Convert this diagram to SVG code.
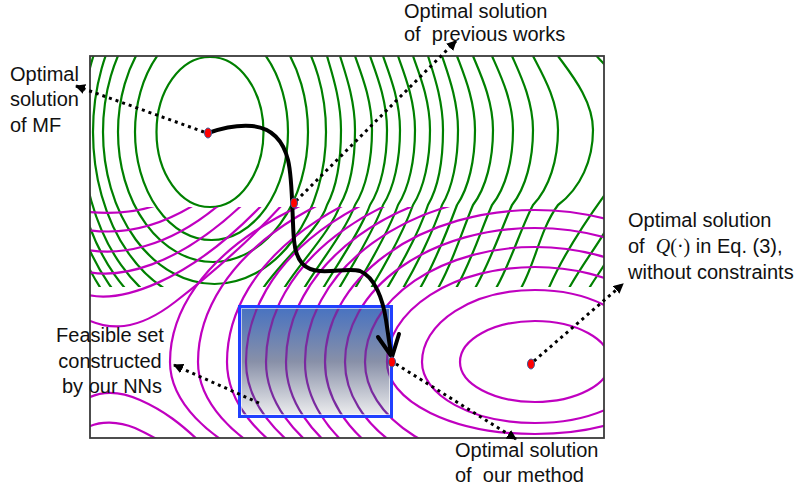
<svg xmlns="http://www.w3.org/2000/svg" xmlns:xlink="http://www.w3.org/1999/xlink" width="801" height="489" viewBox="0 0 801 489">
<style>
.g{fill:none;stroke:#008000;stroke-width:2.2}
.lbl{font-family:"Liberation Sans",Arial,sans-serif;font-size:20px;fill:#111}
.dot{fill:none;stroke:#000;stroke-width:3;stroke-dasharray:3 4;marker-end:url(#ah)}
.pt{fill:#ff0000;stroke:#3d5a9a;stroke-width:1}
</style>
<defs>
<clipPath id="cg"><rect x="90" y="56" width="514" height="231"/></clipPath>
<clipPath id="cm"><rect x="90" y="207" width="514" height="231"/></clipPath>
<clipPath id="cb"><rect x="238" y="305" width="155" height="113"/></clipPath>
<linearGradient id="bg" x1="0" y1="0" x2="0" y2="1">
<stop offset="0" stop-color="#4571c2"/>
<stop offset="0.5" stop-color="#8890a8"/>
<stop offset="1" stop-color="#f2f2f2"/>
</linearGradient>
<marker id="ah" viewBox="0 0 10 10" refX="9" refY="5" markerWidth="10" markerHeight="10" markerUnits="userSpaceOnUse" orient="auto"><path d="M0,0 L10,5 L0,10 z" fill="#000"/></marker>
<g id="mag" fill="none" stroke-width="2.2">
<path d="M460,362 A75,41 0 0 1 535,321 A75,41 0 0 1 610,362 A75,40 0 0 1 535,402 A75,40 0 0 1 460,362Z"/>
<path d="M422,362 A113,72 0 0 1 535,290 A113,72 0 0 1 648,362 A113,61 0 0 1 535,423 A113,61 0 0 1 422,362Z"/>
<path d="M387,362 A148,95 0 0 1 535,267 A148,95 0 0 1 683,362 A148,72 0 0 1 535,434 A148,72 0 0 1 387,362Z"/>
<path d="M365,362 A170,115 0 0 1 535,247 A170,115 0 0 1 705,362 A170,105 0 0 1 535,467 A170,105 0 0 1 365,362Z"/>
<path d="M345,362 A190,134 0 0 1 535,228 A190,134 0 0 1 725,362 A190,122 0 0 1 535,484 A190,122 0 0 1 345,362Z"/>
<path d="M325,362 A210,152 0 0 1 535,210 A210,152 0 0 1 745,362 A210,135 0 0 1 535,497 A210,135 0 0 1 325,362Z"/>
<path d="M305,362 A230,168 0 0 1 535,194 A230,168 0 0 1 765,362 A230,145 0 0 1 535,507 A230,145 0 0 1 305,362Z"/>
<path d="M286,362 A249,179 0 0 1 535,183 A249,179 0 0 1 784,362 A249,148 0 0 1 535,510 A249,148 0 0 1 286,362Z"/>
<path d="M266,362 A269,188 0 0 1 535,174 A269,188 0 0 1 804,362 A269,150 0 0 1 535,512 A269,150 0 0 1 266,362Z"/>
<path d="M246,362 A289,196 0 0 1 535,166 A289,196 0 0 1 824,362 A289,152 0 0 1 535,514 A289,152 0 0 1 246,362Z"/>
<path d="M227,362 A308,200 0 0 1 535,162 A308,200 0 0 1 843,362 A308,155 0 0 1 535,517 A308,155 0 0 1 227,362Z"/>
<path d="M198,362 A337,205 0 0 1 535,157 A337,205 0 0 1 872,362 A337,152 0 0 1 535,514 A337,152 0 0 1 198,362Z"/>
<path d="M170,362 A365,204 0 0 1 535,158 A365,204 0 0 1 900,362 A365,152 0 0 1 535,514 A365,152 0 0 1 170,362Z"/>
<path d="M88,212 C110,214 135,213 157,205"/>
<path d="M88,230 C115,234 150,232 194,205"/>
<path d="M88,250 C118,255 165,250 219,205"/>
<path d="M88,272 C120,278 175,268 242,205"/>
<path d="M88,295 C120,302 185,285 262,205"/>
<path d="M88,320 C108,329 135,333 175,302 C210,275 250,240 282,205"/>
<path d="M88,398 C102,391 118,390 140,400 C165,411 182,425 200,442"/>
<path d="M88,427 C100,421 118,421 135,428 C146,433 155,438 162,442"/>
</g>
</defs>
<rect width="801" height="489" fill="#fff"/>
<g id="contours-green" clip-path="url(#cg)">
<ellipse class="g" cx="210" cy="132" rx="53.5" ry="75"/>
<ellipse class="g" cx="211.5" cy="132" rx="76.5" ry="108"/>
<ellipse class="g" cx="213" cy="132" rx="95" ry="130"/>
<ellipse class="g" cx="214.5" cy="132" rx="111.5" ry="152"/>
<path class="g" d="M215,-40 A122,172 0 0 0 215,304"/>
<path class="g" d="M215,-56 A133,188 0 0 0 215,320"/>
<path class="g" d="M215,-70 A142,202 0 0 0 215,334"/>
<path class="g" d="M215,-83 A150,215 0 0 0 215,347"/>
<path class="g" d="M215,-96 A157,228 0 0 0 215,360"/>
<path class="g" d="M327,56 C331.9,73 341,100 341,130 C341,160 336.1,188 327,205 C319.7,230 277,265 262,290"/>
<path class="g" d="M340,56 C345.3,73 355,100 355,130 C355,160 349.8,188 340,205 C332.1,230 298,265 283,290"/>
<path class="g" d="M355,56 C361,73 372,100 372,130 C372,160 366,188 355,205 C346.1,230 318,265 303,290"/>
<path class="g" d="M370,56 C376,73 387,100 387,130 C387,160 381,188 370,205 C361.1,230 337,265 322,290"/>
<path class="g" d="M383,56 C389,73 400,100 400,130 C400,160 394,188 383,205 C374.1,230 353,265 338,290"/>
<path class="g" d="M398,56 C404,73 415,100 415,130 C415,160 409,188 398,205 C389.1,230 369,265 354,290"/>
<path class="g" d="M413,56 C419,73 430,100 430,130 C430,160 424,188 413,205 C404.1,230 385,265 370,290"/>
<path class="g" d="M428,56 C433.3,73 443,100 443,130 C443,160 437.8,188 428,205 C420.1,230 401,265 386,290"/>
<path class="g" d="M442,56 C447.6,73 458,100 458,130 C458,160 452.4,188 442,205 C433.6,230 417,265 402,290"/>
<path class="g" d="M457,56 C463.3,73 475,100 475,130 C475,160 468.7,188 457,205 C447.6,230 434,265 419,290"/>
<path class="g" d="M473,56 C480,73 493,100 493,130 C493,160 486,188 473,205 C462.5,230 452,265 437,290"/>
<path class="g" d="M492,56 C499.4,73 513,100 513,130 C513,160 505.7,188 492,205 C481,230 470,265 455,290"/>
<path class="g" d="M512,56 C519.4,73 533,100 533,130 C533,160 525.7,188 512,205 C501,230 489,265 474,290"/>
<path class="g" d="M533,56 C541.8,73 558,100 558,130 C558,160 549.3,188 533,205 C519.9,230 510,265 495,290"/>
<path class="g" d="M558,56 C570.3,73 593,100 593,130 C593,160 580.8,188 558,205 C539.6,230 535,265 520,290"/>
<path class="g" d="M595,54 C599,59 603,63 608,68"/>
<path class="g" d="M606,193 C590,215 565,250 548,290"/>
<path class="g" d="M606,230 C596,247 580,268 568,290"/>
<path class="g" d="M606,262 C600,272 594,280 588,290"/>
</g>
<g id="contours-magenta">
<use xlink:href="#mag" href="#mag" stroke="#c000c0" clip-path="url(#cm)"/>
</g>
<g id="feasible-set">
<rect x="238" y="305" width="155" height="113" fill="url(#bg)"/>
<use xlink:href="#mag" href="#mag" stroke="#7a2a9f" clip-path="url(#cb)"/>
<rect x="239.5" y="306.5" width="152" height="110" fill="none" stroke="#2040ff" stroke-width="3"/>
<rect x="241.5" y="308.5" width="148" height="106" fill="none" stroke="#ffffff" stroke-width="1" opacity="0.6"/>
</g>
<rect id="frame" x="90" y="56" width="514" height="382" fill="none" stroke="#3a3a3a" stroke-width="1.8"/>
<g id="connectors">
<path d="M208,133 C225,127 240,125 252,126 C272,128 283,140 288,160 C293,180 292,220 294,240 C296,262 305,270 320,271 C335,272 350,268 360,271 C375,277 383,300 386,320 L391,354" fill="none" stroke="#000" stroke-width="4" stroke-linecap="round"/>
<path d="M378,337 L392,357 L399,334" fill="none" stroke="#000" stroke-width="4" stroke-linecap="round" stroke-linejoin="round"/>
<path class="dot" d="M204,132 L76,86"/>
<path class="dot" d="M296,201 L456,41"/>
<path class="dot" d="M534,361 L623,284"/>
<path class="dot" d="M396,364 L516,439"/>
<path class="dot" d="M259,403 L174,365"/>
</g>
<g id="points">
<ellipse class="pt" cx="208" cy="133" rx="3.5" ry="5"/>
<ellipse class="pt" cx="294" cy="203" rx="3.5" ry="5"/>
<ellipse class="pt" cx="392" cy="362" rx="3.5" ry="5"/>
<ellipse class="pt" cx="531" cy="364" rx="3.5" ry="5"/>
</g>
<g id="label-mf" class="lbl">
<text x="10" y="81">Optimal</text>
<text x="10" y="106">solution</text>
<text x="10" y="132">of MF</text>
</g>
<g id="label-previous" class="lbl">
<text x="404" y="18">Optimal solution</text>
<text x="404" y="41" xml:space="preserve">of  previous works</text>
</g>
<g id="label-q" class="lbl">
<text x="628" y="227">Optimal solution</text>
<text x="628" y="253" xml:space="preserve">of  <tspan font-family="'Liberation Serif',serif" font-style="italic">Q</tspan><tspan font-family="'Liberation Serif',serif">(·)</tspan> in Eq. (3),</text>
<text x="628" y="279">without constraints</text>
</g>
<g id="label-feasible" class="lbl" text-anchor="middle">
<text x="110" y="342">Feasible set</text>
<text x="110" y="368">constructed</text>
<text x="112" y="393">by our NNs</text>
</g>
<g id="label-ours" class="lbl">
<text x="455" y="457">Optimal solution</text>
<text x="455" y="482" xml:space="preserve">of  our method</text>
</g>
</svg>
